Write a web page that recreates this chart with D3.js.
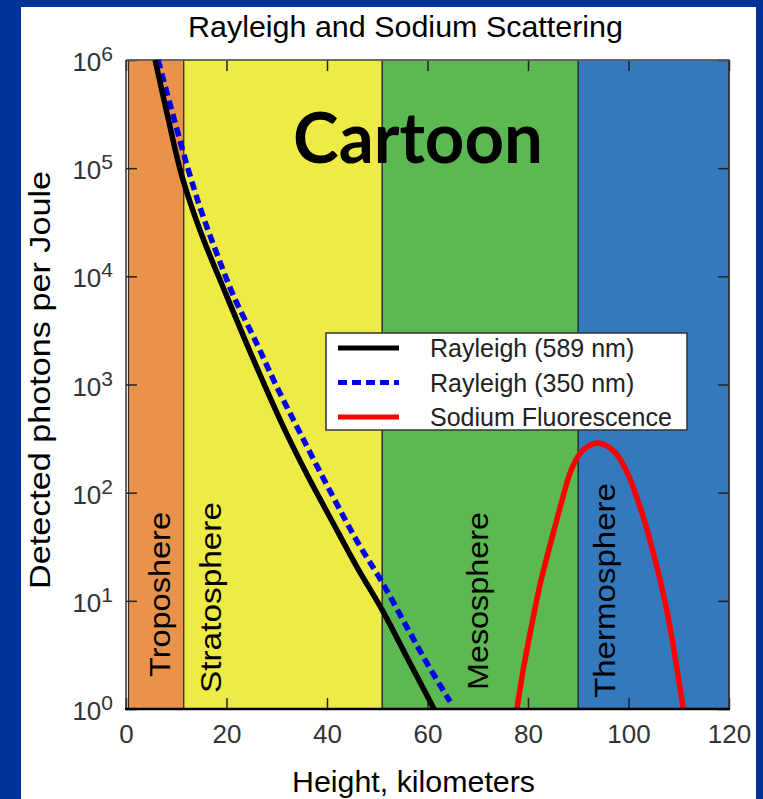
<!DOCTYPE html>
<html>
<head>
<meta charset="utf-8">
<script src="https://cdn.jsdelivr.net/npm/d3@7"></script>
<style>
  body { margin: 0; background: #003399; }
  svg { display: block; }
  text { font-family: "Liberation Sans", Arial, sans-serif; }
</style>
</head>
<body>
<svg id="chart" width="763" height="799"></svg>
<script>
// atmosphere layers (km)
var layerNames = ["Troposhere", "Stratosphere", "Mesosphere", "Thermosphere"]
var layerStart = [0, 11.5, 51, 90]
var layerEnd = [11.5, 51, 90, 120]
var layerColors = ["#e9924b", "#eeeb46", "#5cb850", "#3279bd"]

var xTicks = [0, 20, 40, 60, 80, 100, 120]
var yTicks = [1, 10, 100, 1e3, 1e4, 1e5, 1e6]

// [height km, photons per joule]
var rayleigh589 = [[5.8, 1e6], [8.2, 3.16e5], [10.7, 1e5], [13, 4.47e4], [15.5, 2.14e4], [18.6, 9.55e3],
    [25, 1.86e3], [31.2, 417], [36, 148], [41.2, 52.5], [46, 20.4], [51, 8.2], [56, 2.95], [61.3, 1]]
var rayleigh350 = [[6.4, 1e6], [9.3, 3.16e5], [12.3, 1e5], [15, 3.98e4], [18, 1.66e4], [21.3, 6.76e3],
    [26, 2.4e3], [30, 955], [35, 331], [41, 95.5], [46, 35.5], [51, 14.8], [56, 5.6], [60, 2.6], [64.5, 1.17]]
var sodium = [[77.8, 1], [79, 2.24], [80.5, 5.25], [82.6, 15.5], [84.6, 35.5], [86.6, 79.4], [88.5, 158],
    [90.3, 229], [92, 269], [93.8, 288], [95.8, 269], [97.7, 224], [99.6, 158], [102.3, 74],
    [104.9, 28.2], [107.6, 8.3], [109.2, 3.16], [110.9, 1]]

var seriesNames = ["Rayleigh (589 nm)", "Rayleigh (350 nm)", "Sodium Fluorescence"]

const svg = d3.select("#chart")
const W = 763, H = 799
const pLeft = 126, pRight = 729, pTop = 60, pBottom = 709

svg.append("rect").attr("width", W).attr("height", H).attr("fill", "#003399")
svg.append("rect").attr("x", 21).attr("y", 7).attr("width", 735).attr("height", H - 7).attr("fill", "#ffffff")

const x = d3.scaleLinear().domain([0, 120]).range([pLeft, pRight])
const y = d3.scaleLog().domain([1, 1e6]).range([pBottom, pTop])

// layer bands
svg.append("g")
    .selectAll("rect")
    .data(layerNames)
    .join("rect")
    .attr("x", (d, i) => x(layerStart[i]) + (i == 0 ? 2.5 : 0))
    .attr("y", pTop)
    .attr("width", (d, i) => x(layerEnd[i]) - x(layerStart[i]) - (i == 0 ? 2.5 : 0))
    .attr("height", pBottom - pTop)
    .style("fill", (d, i) => layerColors[i])
    .style("stroke", "#2b2b2b")
    .style("stroke-width", 1.2)

// layer labels, rotated
var labelKm = [8.8, 18.9, 72, 97.3]
var labelBottom = [677, 693, 690, 698]
var labelLen = [165, 191, 178, 215]
svg.append("g")
    .selectAll("text")
    .data(layerNames)
    .join("text")
    .attr("transform", (d, i) => `translate(${x(labelKm[i])},${labelBottom[i]}) rotate(-90)`)
    .attr("textLength", (d, i) => labelLen[i])
    .attr("lengthAdjust", "spacingAndGlyphs")
    .style("font-size", "30px")
    .style("fill", "#000")
    .text(d => d)

// axes (ticks inside)
function styleAxis(g) {
    g.select(".domain").remove()
    g.selectAll(".tick line").style("stroke", "#222").style("stroke-width", 1.5)
}
svg.append("g").attr("transform", `translate(0,${pBottom})`)
    .call(d3.axisBottom(x).tickValues(xTicks).tickSize(-11).tickFormat(d => d))
    .call(styleAxis)
    .call(g => g.selectAll(".tick text")
        .attr("y", 34).attr("dy", 0)
        .style("font-size", "26px")
        .style("font-family", "Liberation Sans, Arial, sans-serif")
        .style("fill", "#333"))
svg.append("g").attr("transform", `translate(0,${pTop})`)
    .call(d3.axisTop(x).tickValues(xTicks).tickSize(-11).tickFormat(""))
    .call(styleAxis)
svg.append("g").attr("transform", `translate(${pLeft},0)`)
    .call(d3.axisLeft(y).tickValues(yTicks).tickSize(-11).tickFormat(""))
    .call(styleAxis)
svg.append("g").attr("transform", `translate(${pRight},0)`)
    .call(d3.axisRight(y).tickValues(yTicks).tickSize(-11).tickFormat(""))
    .call(styleAxis)

// y tick labels 10^n
const yLab = svg.append("g")
    .selectAll("text")
    .data(yTicks)
    .join("text")
    .attr("x", 113)
    .attr("y", d => y(d) + 11)
    .attr("text-anchor", "end")
    .style("fill", "#333")
yLab.append("tspan").style("font-size", "26px").text("10")
yLab.append("tspan").style("font-size", "21px").attr("dy", -10).text(d => Math.round(Math.log10(d)))

// frame
svg.append("line").attr("x1", pLeft).attr("x2", pRight).attr("y1", pTop).attr("y2", pTop)
    .style("stroke", "#666").style("stroke-width", 1.5)
svg.append("line").attr("x1", pRight).attr("x2", pRight).attr("y1", pTop).attr("y2", pBottom)
    .style("stroke", "#333").style("stroke-width", 1.5)
svg.append("line").attr("x1", pLeft).attr("x2", pLeft).attr("y1", pTop).attr("y2", pBottom)
    .style("stroke", "#333").style("stroke-width", 1.5)

// curves
svg.append("clipPath").attr("id", "plotclip")
    .append("rect").attr("x", pLeft).attr("y", pTop - 3).attr("width", pRight - pLeft).attr("height", pBottom - pTop + 3)

const line = d3.line()
    .x(d => x(d[0]))
    .y(d => y(d[1]))
    .curve(d3.curveCatmullRom.alpha(0.5))

const curves = svg.append("g").attr("clip-path", "url(#plotclip)")
curves.append("path").datum(sodium).attr("d", line)
    .style("fill", "none").style("stroke", "#ff0000").style("stroke-width", 5.5)
curves.append("path").datum(rayleigh350).attr("d", line)
    .style("fill", "none").style("stroke", "#0000ee").style("stroke-width", 5.5)
    .style("stroke-dasharray", "9,5")
curves.append("path").datum(rayleigh589).attr("d", line)
    .style("fill", "none").style("stroke", "#000").style("stroke-width", 5.5)

svg.append("line").attr("x1", pLeft - 1).attr("x2", pRight + 1).attr("y1", pBottom).attr("y2", pBottom)
    .style("stroke", "#000").style("stroke-width", 2.5)

// legend
const legend = svg.append("g").attr("transform", "translate(326,333)")
legend.append("rect").attr("width", 361).attr("height", 97)
    .style("fill", "#fff").style("stroke", "#333").style("stroke-width", 1.5)
var legendStroke = ["#000", "#0000ee", "#ff0000"]
var legendDash = ["none", "9,5", "none"]
const items = legend.selectAll("g.item")
    .data(seriesNames)
    .join("g")
    .attr("class", "item")
    .attr("transform", (d, i) => `translate(0,${15 + i * 34.5})`)
items.append("line").attr("x1", 12).attr("x2", 73)
    .style("stroke", (d, i) => legendStroke[i])
    .style("stroke-width", 5)
    .style("stroke-dasharray", (d, i) => legendDash[i])
items.append("text").attr("x", 104).attr("y", 9)
    .style("font-size", "25px").style("fill", "#222")
    .text(d => d)

// titles
svg.append("text").attr("x", 405.5).attr("y", 37).attr("text-anchor", "middle")
    .attr("textLength", 435).attr("lengthAdjust", "spacingAndGlyphs")
    .style("font-size", "29px").text("Rayleigh and Sodium Scattering")
svg.append("text").attr("x", 413.5).attr("y", 792).attr("text-anchor", "middle")
    .attr("textLength", 243).attr("lengthAdjust", "spacingAndGlyphs")
    .style("font-size", "30px").text("Height, kilometers")
svg.append("text").attr("transform", "translate(50,380) rotate(-90)").attr("text-anchor", "middle")
    .attr("textLength", 418).attr("lengthAdjust", "spacingAndGlyphs")
    .style("font-size", "30px").text("Detected photons per Joule")

svg.append("text").attr("x", 418).attr("y", 163).attr("text-anchor", "middle")
    .attr("textLength", 250).attr("lengthAdjust", "spacingAndGlyphs")
    .style("font-family", "Lato, sans-serif").style("font-weight", "bold")
    .style("font-size", "70px").text("Cartoon")
</script>
</body>
</html>
